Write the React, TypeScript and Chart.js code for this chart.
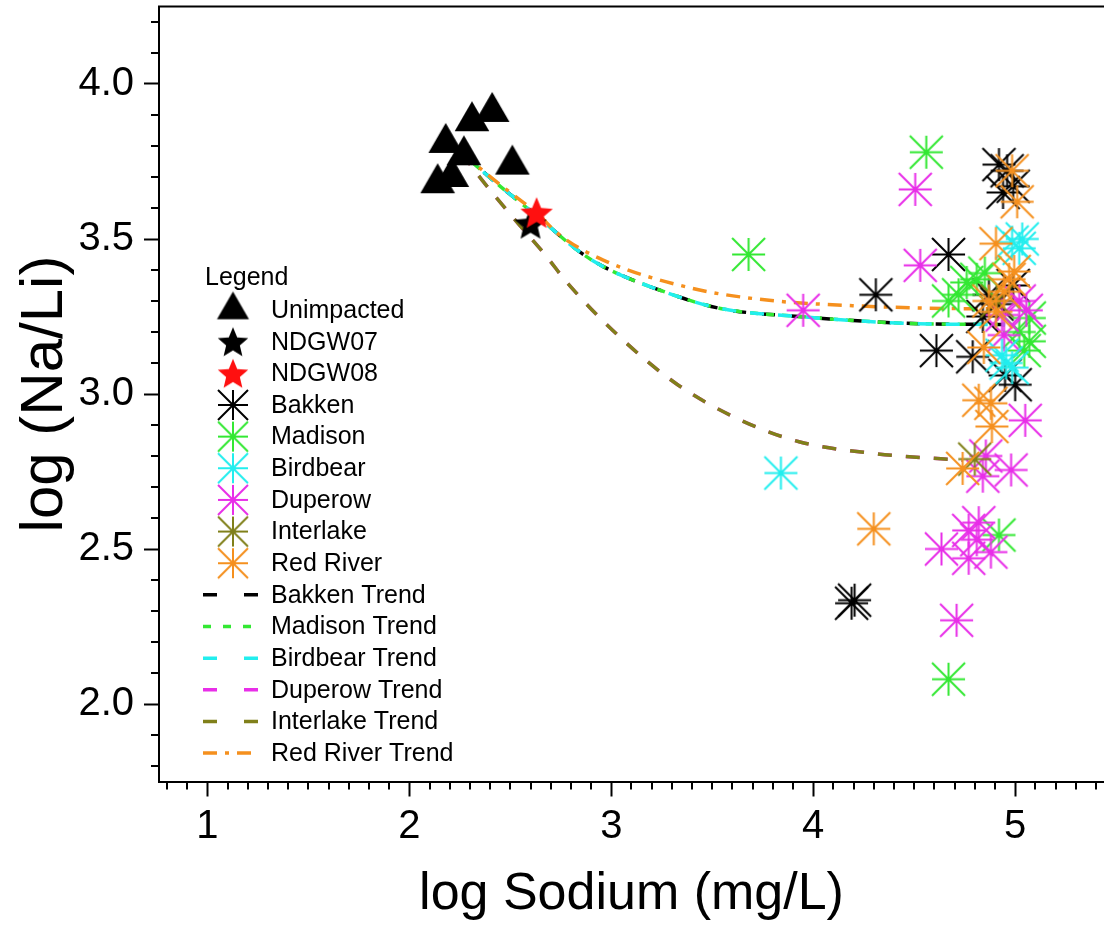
import React, { useEffect, useRef } from 'react';
import { Chart, registerables } from 'chart.js';

Chart.register(...registerables);

const FONT = "'Liberation Sans', Arial, Helvetica, sans-serif";

// Axis ranges and labelled ticks
const X_MIN = 0.76;
const X_MAX = 5.44;
const Y_MIN = 1.75;
const Y_MAX = 4.25;
const X_TICKS = [1, 2, 3, 4, 5];
const Y_TICKS = [2.0, 2.5, 3.0, 3.5, 4.0];

const X_TITLE = 'log Sodium (mg/L)';
const Y_TITLE = 'log (Na/Li)';
const LEGEND_TITLE = 'Legend';

// [log Na, log Na/Li] samples
const unimpacted: number[][] = [
  [2.41, 3.91], [2.31, 3.88], [2.18, 3.81], [2.27, 3.77],
  [2.51, 3.74], [2.14, 3.68], [2.21, 3.70],
];
const ndgw07: number[][] = [[2.6, 3.55]];
const ndgw08: number[][] = [[2.63, 3.585]];

const bakken: number[][] = [
  [4.31, 3.32], [4.67, 3.45], [4.61, 3.14], [4.79, 3.12], [4.19, 2.325], [4.205, 2.335],
  [4.92, 3.74], [4.96, 3.72], [4.94, 3.65], [4.99, 3.67], [4.87, 3.32], [4.91, 3.29],
  [4.84, 3.25], [4.99, 3.35], [5.0, 3.03], [4.95, 3.06],
];
const madison: number[][] = [
  [3.68, 3.45], [4.56, 3.78], [4.67, 2.08], [4.92, 2.545], [4.72, 3.32], [4.76, 3.36],
  [4.81, 3.37], [4.85, 3.39], [4.67, 3.30], [5.02, 3.20], [5.07, 3.245], [5.07, 3.17],
  [5.045, 3.14],
];
const birdbear: number[][] = [
  [3.84, 2.745], [4.985, 3.49], [5.035, 3.50], [5.02, 3.47], [4.955, 3.10],
  [4.985, 3.085], [4.935, 3.125],
];
const duperow: number[][] = [
  [3.95, 3.27], [4.505, 3.66], [4.53, 3.415], [5.05, 2.915], [4.855, 2.80], [4.84, 2.735],
  [4.98, 2.755], [4.82, 2.585], [4.77, 2.56], [4.81, 2.53], [4.88, 2.49], [4.77, 2.47],
  [4.635, 2.50], [4.71, 2.27], [4.935, 3.255], [4.945, 3.19], [5.055, 3.27], [5.02, 3.30],
];
const interlake: number[][] = [[4.91, 3.30], [4.80, 2.79]];
const redRiver: number[][] = [
  [4.30, 2.565], [4.985, 3.72], [5.01, 3.62], [4.905, 3.485], [4.97, 3.37], [4.945, 3.33],
  [4.905, 3.265], [4.995, 3.395], [4.87, 3.30], [4.845, 3.15], [4.82, 2.98], [4.88, 2.97],
  [4.885, 2.895], [4.74, 2.76],
];

// Fitted trend curves
const bakkenTrend: number[][] = [
  [2.26, 3.776], [2.45, 3.67], [2.64, 3.57], [2.84, 3.46], [2.96, 3.411], [3.24, 3.335],
  [3.54, 3.276], [3.95, 3.249], [4.46, 3.228], [4.95, 3.224],
];
const madisonTrend: number[][] = [
  [2.26, 3.776], [2.45, 3.67], [2.64, 3.57], [2.84, 3.46], [2.96, 3.411], [3.24, 3.335],
  [3.54, 3.276], [3.95, 3.249], [4.46, 3.228], [4.95, 3.224],
];
const birdbearTrend: number[][] = [
  [2.26, 3.776], [2.45, 3.67], [2.64, 3.57], [2.84, 3.46], [2.96, 3.411], [3.24, 3.335],
  [3.54, 3.276], [3.95, 3.249], [4.46, 3.228], [4.95, 3.224],
];
const duperowTrend: number[][] = [
  [2.26, 3.776], [2.36, 3.69], [2.51, 3.572], [2.68, 3.443], [2.78, 3.36], [3.04, 3.185],
  [3.32, 3.034], [3.62, 2.922], [3.93, 2.846], [4.29, 2.809], [4.74, 2.786],
];
const interlakeTrend: number[][] = [
  [2.26, 3.776], [2.36, 3.69], [2.51, 3.572], [2.68, 3.443], [2.78, 3.36], [3.04, 3.185],
  [3.32, 3.034], [3.62, 2.922], [3.93, 2.846], [4.29, 2.809], [4.74, 2.786],
];
const redRiverTrend: number[][] = [
  [2.26, 3.776], [2.45, 3.675], [2.64, 3.578], [2.74, 3.515], [2.96, 3.432], [3.40, 3.341],
  [3.77, 3.303], [4.23, 3.284], [4.65, 3.276], [4.89, 3.275],
];

const C_BLACK = '#000000';
const C_RED = '#ff1010';
const C_GREEN = '#33e833';
const C_CYAN = '#22eeee';
const C_MAGENTA = '#e82ee8';
const C_OLIVE = '#80801a';
const C_ORANGE = '#f5901e';

const toPts = (arr: number[][]) => arr.map(([x, y]) => ({ x, y }));

function newCanvas(size: number) {
  const c = document.createElement('canvas');
  c.width = size;
  c.height = size;
  return c;
}

// Eight-armed asterisk whose diagonals run to the corners of its box
function asterisk(color: string, r: number, lw = 2) {
  const size = Math.ceil(2 * r + 4);
  const c = newCanvas(size);
  const g = c.getContext('2d')!;
  const m = size / 2;
  g.strokeStyle = color;
  g.lineWidth = lw;
  g.beginPath();
  g.moveTo(m - r, m); g.lineTo(m + r, m);
  g.moveTo(m, m - r); g.lineTo(m, m + r);
  g.moveTo(m - r, m - r); g.lineTo(m + r, m + r);
  g.moveTo(m - r, m + r); g.lineTo(m + r, m - r);
  g.stroke();
  return c;
}

function triangle(color: string, r: number) {
  const size = Math.ceil(2 * r + 4);
  const c = newCanvas(size);
  const g = c.getContext('2d')!;
  const m = size / 2;
  g.fillStyle = color;
  g.beginPath();
  g.moveTo(m, m - r);
  g.lineTo(m + 0.866 * r, m + r / 2);
  g.lineTo(m - 0.866 * r, m + r / 2);
  g.closePath();
  g.fill();
  return c;
}

function star(color: string, r: number) {
  const size = Math.ceil(2 * r + 4);
  const c = newCanvas(size);
  const g = c.getContext('2d')!;
  const m = size / 2;
  const inner = r * 0.45;
  g.fillStyle = color;
  g.beginPath();
  for (let i = 0; i < 10; i++) {
    const rr = i % 2 === 0 ? r : inner;
    const a = -Math.PI / 2 + (i * Math.PI) / 5;
    const px = m + rr * Math.cos(a);
    const py = m + 1.5 + rr * Math.sin(a);
    if (i === 0) g.moveTo(px, py); else g.lineTo(px, py);
  }
  g.closePath();
  g.fill();
  return c;
}

// Minor ticks and the top frame line
const framePlugin = {
  id: 'frameAndMinorTicks',
  afterDraw(chart: any) {
    const { ctx, chartArea } = chart;
    const xs = chart.scales.x;
    const ys = chart.scales.y;
    ctx.save();
    ctx.strokeStyle = '#000';
    ctx.lineWidth = 2;
    ctx.beginPath();
    for (let v = Math.ceil(ys.min * 10); v <= Math.floor(ys.max * 10); v++) {
      if (v % 5 === 0) continue;
      const py = Math.round(ys.getPixelForValue(v / 10));
      ctx.moveTo(chartArea.left - 8, py);
      ctx.lineTo(chartArea.left, py);
    }
    for (let v = Math.ceil(xs.min * 10); v <= Math.floor(xs.max * 10); v++) {
      if (v % 10 === 0) continue;
      const px = Math.round(xs.getPixelForValue(v / 10));
      ctx.moveTo(px, chartArea.bottom);
      ctx.lineTo(px, chartArea.bottom + 8);
    }
    ctx.moveTo(chartArea.left - 1, chartArea.top);
    ctx.lineTo(chartArea.right, chartArea.top);
    ctx.stroke();
    ctx.restore();
  },
};

// Legend drawn inside the plot area
const LEG_TITLE_X = 205;
const LEG_TITLE_Y = 278;
const LEG_ROW0 = 310;
const LEG_ROW = 31.65;
const LEG_SYM_X = 233;
const LEG_LINE_X0 = 203;
const LEG_LINE_X1 = 258;
const LEG_TEXT_X = 271;

const legendPlugin = {
  id: 'innerLegend',
  afterDraw(chart: any) {
    const { ctx } = chart;
    ctx.save();
    ctx.fillStyle = '#000';
    ctx.font = `25px ${FONT}`;
    ctx.textAlign = 'left';
    ctx.textBaseline = 'middle';
    ctx.fillText(LEGEND_TITLE, LEG_TITLE_X, LEG_TITLE_Y);
    chart.data.datasets.forEach((ds: any, i: number) => {
      const y = LEG_ROW0 + i * LEG_ROW;
      if (ds.legendImg) {
        const im = ds.legendImg as HTMLCanvasElement;
        ctx.drawImage(im, LEG_SYM_X - im.width / 2, y - im.height / 2);
      } else {
        ctx.save();
        ctx.strokeStyle = ds.borderColor;
        ctx.lineWidth = ds.borderWidth;
        ctx.setLineDash(ds.legendDash || []);
        ctx.beginPath();
        ctx.moveTo(LEG_LINE_X0, y);
        ctx.lineTo(LEG_LINE_X1, y);
        ctx.stroke();
        ctx.restore();
      }
      ctx.fillStyle = '#000';
      ctx.fillText(ds.label, LEG_TEXT_X, y + 1);
    });
    ctx.restore();
  },
};

export default function App() {
  const ref = useRef<HTMLCanvasElement | null>(null);

  useEffect(() => {
    if (!ref.current) return;
    const AST_R = 16.5;
    const LEG_AST_R = 15;

    const markerSet = (label: string, data: number[][], img: HTMLCanvasElement, legendImg: HTMLCanvasElement, order: number) => ({
      label,
      data: toPts(data),
      pointStyle: img,
      pointRadius: 12,
      showLine: false,
      legendImg,
      order,
    });

    const trendSet = (label: string, data: number[][], color: string, dash: number[], legendDash: number[], order: number) => ({
      label,
      data: toPts(data),
      showLine: true,
      borderColor: color,
      backgroundColor: color,
      borderWidth: 3.5,
      borderDash: dash,
      legendDash,
      pointRadius: 0,
      cubicInterpolationMode: 'monotone',
      fill: false,
      order,
    });

    const datasets: any[] = [
      markerSet('Unimpacted', unimpacted, triangle(C_BLACK, 20), triangle(C_BLACK, 18.5), 2),
      markerSet('NDGW07', ndgw07, star(C_BLACK, 17), star(C_BLACK, 16), 1),
      markerSet('NDGW08', ndgw08, star(C_RED, 17), star(C_RED, 16), 0),
      markerSet('Bakken', bakken, asterisk(C_BLACK, AST_R), asterisk(C_BLACK, LEG_AST_R), 8),
      markerSet('Madison', madison, asterisk(C_GREEN, AST_R), asterisk(C_GREEN, LEG_AST_R), 7),
      markerSet('Birdbear', birdbear, asterisk(C_CYAN, AST_R), asterisk(C_CYAN, LEG_AST_R), 4),
      markerSet('Duperow', duperow, asterisk(C_MAGENTA, AST_R), asterisk(C_MAGENTA, LEG_AST_R), 6),
      markerSet('Interlake', interlake, asterisk(C_OLIVE, AST_R), asterisk(C_OLIVE, LEG_AST_R), 5),
      markerSet('Red River', redRiver, asterisk(C_ORANGE, AST_R), asterisk(C_ORANGE, LEG_AST_R), 3),
      trendSet('Bakken Trend', bakkenTrend, C_BLACK, [13, 16], [14, 27], 20),
      trendSet('Madison Trend', madisonTrend, C_GREEN, [8, 8], [8, 12], 18),
      trendSet('Birdbear Trend', birdbearTrend, C_CYAN, [14, 14], [14, 27], 17),
      trendSet('Duperow Trend', duperowTrend, C_MAGENTA, [14, 14], [14, 27], 19),
      trendSet('Interlake Trend', interlakeTrend, C_OLIVE, [14, 14], [14, 27], 16),
      trendSet('Red River Trend', redRiverTrend, C_ORANGE, [14, 8, 4, 8], [14, 8, 4, 8], 15),
    ];

    const useTicks = (values: number[]) => (scale: any) => {
      scale.ticks = values.map((value) => ({ value }));
    };

    const chart = new Chart(ref.current, {
      type: 'scatter',
      data: { datasets },
      plugins: [framePlugin, legendPlugin],
      options: {
        responsive: false,
        animation: false,
        devicePixelRatio: 1,
        layout: { autoPadding: false, padding: { top: 6.5, right: 0, bottom: 0, left: 0 } },
        plugins: {
          legend: { display: false },
          tooltip: { enabled: false },
        },
        scales: {
          x: {
            type: 'linear',
            min: X_MIN,
            max: X_MAX,
            afterFit: (s: any) => {
              s.height = 145.5;
              s.paddingLeft = 0;
              s.paddingRight = 0;
            },
            afterBuildTicks: useTicks(X_TICKS),
            grid: {
              drawOnChartArea: false,
              drawTicks: true,
              tickLength: 15,
              tickWidth: 2,
              tickColor: '#000',
            },
            border: { display: true, color: '#000', width: 2 },
            ticks: {
              autoSkip: false,
              maxRotation: 0,
              padding: 6,
              color: '#000',
              font: { family: FONT, size: 40 },
              callback: (v: any) => String(Math.round(Number(v))),
            },
            title: {
              display: true,
              text: X_TITLE,
              color: '#000',
              font: { family: FONT, size: 52, lineHeight: 1.2 },
              padding: { top: 0, bottom: 1 },
            },
          },
          y: {
            type: 'linear',
            min: Y_MIN,
            max: Y_MAX,
            afterFit: (s: any) => {
              s.width = 159;
              s.paddingTop = 0;
              s.paddingBottom = 0;
            },
            afterBuildTicks: useTicks(Y_TICKS),
            grid: {
              drawOnChartArea: false,
              drawTicks: true,
              tickLength: 15,
              tickWidth: 2,
              tickColor: '#000',
            },
            border: { display: true, color: '#000', width: 2 },
            ticks: {
              autoSkip: false,
              padding: 10,
              color: '#000',
              font: { family: FONT, size: 40 },
              callback: (v: any) => Number(v).toFixed(1),
            },
            title: {
              display: true,
              text: Y_TITLE,
              color: '#000',
              font: { family: FONT, size: 60, lineHeight: 1.2 },
              padding: { top: 9, bottom: 0 },
            },
          },
        },
      } as any,
    });

    return () => chart.destroy();
  }, []);

  return (
    <div style={{ position: 'absolute', left: 0, top: 0, width: 1104, height: 927, background: '#fff' }}>
      <canvas ref={ref} width={1104} height={927} style={{ display: 'block' }} />
    </div>
  );
}
